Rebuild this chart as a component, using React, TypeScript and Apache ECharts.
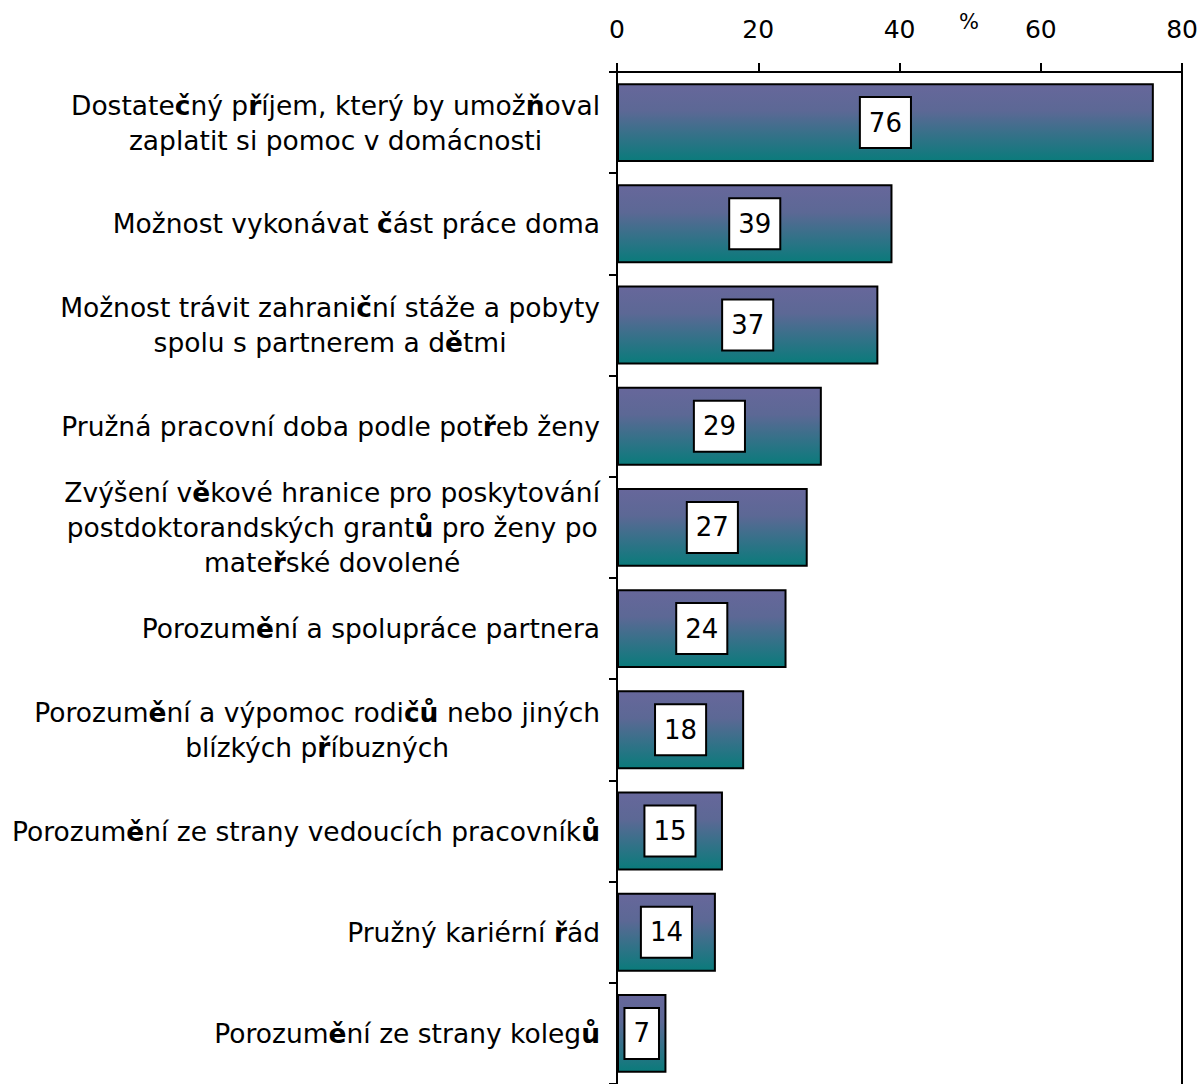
import React, { useEffect, useRef } from "react";
import * as echarts from "echarts";

const categories: string[] = [
  "Dostatečný příjem, který by umožňoval\nzaplatit si pomoc v domácnosti",
  "Možnost vykonávat část práce doma",
  "Možnost trávit zahraniční stáže a pobyty\nspolu s partnerem a dětmi",
  "Pružná pracovní doba podle potřeb ženy",
  "Zvýšení věkové hranice pro poskytování\npostdoktorandských grantů pro ženy po\nmateřské dovolené",
  "Porozumění a spolupráce partnera",
  "Porozumění a výpomoc rodičů nebo jiných\nblízkých příbuzných",
  "Porozumění ze strany vedoucích pracovníků",
  "Pružný kariérní řád",
  "Porozumění ze strany kolegů",
];

const values: number[] = [76, 39, 37, 29, 27, 24, 18, 15, 14, 7];

const xTicks = { min: 0, max: 80, interval: 20 };
const unitLabel = "%";

const BOLD_CHARS = "čřňěůďťČŘŇĚŮĎŤ";
const FONT = "DejaVu Sans";

function toRich(label: string): string {
  return label
    .split("\n")
    .map((line) => {
      let out = "";
      let run = "";
      let runBold: boolean | null = null;
      for (const ch of line) {
        const b = BOLD_CHARS.indexOf(ch) >= 0;
        if (runBold === null || b === runBold) {
          run += ch;
          runBold = b;
        } else {
          out += `{${runBold ? "b" : "n"}|${run}}`;
          run = ch;
          runBold = b;
        }
      }
      if (run) out += `{${runBold ? "b" : "n"}|${run}}`;
      return out;
    })
    .join("\n");
}

export default function App() {
  const ref = useRef<HTMLDivElement>(null);

  useEffect(() => {
    if (!ref.current) return;
    const chart = echarts.init(ref.current, undefined, { renderer: "svg" });
    const option: any = {
      animation: false,
      backgroundColor: "#ffffff",
      grid: { left: 617, right: 18, top: 72, bottom: -5, containLabel: false },
      xAxis: {
        type: "value",
        position: "top",
        min: xTicks.min,
        max: xTicks.max,
        interval: xTicks.interval,
        axisLine: { show: true, lineStyle: { color: "#000", width: 2 } },
        axisTick: { show: true, length: 9, lineStyle: { color: "#000", width: 2 } },
        splitLine: { show: false },
        axisLabel: {
          color: "#000",
          fontFamily: FONT,
          fontSize: 25,
          margin: 30,
        },
      },
      yAxis: [
        {
          type: "category",
          inverse: true,
          data: categories,
          axisLine: { show: true, lineStyle: { color: "#000", width: 2 } },
          axisTick: { show: true, length: 8, lineStyle: { color: "#000", width: 2 } },
          axisLabel: {
            margin: 17,
            formatter: (v: string) => toRich(v),
            rich: {
              n: {
                fontFamily: FONT,
                fontSize: 26.5,
                color: "#000",
                align: "center",
                lineHeight: 35,
              },
              b: {
                fontFamily: FONT,
                fontSize: 26.5,
                fontWeight: "bold",
                color: "#000",
                align: "center",
                lineHeight: 35,
              },
            },
          },
        },
        {
          type: "category",
          inverse: true,
          position: "right",
          data: categories,
          axisLine: { show: true, lineStyle: { color: "#000", width: 2 } },
          axisTick: { show: false },
          axisLabel: { show: false },
        },
      ],
      series: [
        {
          type: "bar",
          data: values,
          barCategoryGap: "22%",
          itemStyle: {
            color: new echarts.graphic.LinearGradient(0, 0, 0, 1, [
              { offset: 0, color: "#67679b" },
              { offset: 0.35, color: "#5c6895" },
              { offset: 1, color: "#0a7b7b" },
            ]),
            borderColor: "#000",
            borderWidth: 2,
          },
          label: {
            show: true,
            position: "inside",
            color: "#000",
            fontFamily: FONT,
            fontSize: 26,
            backgroundColor: "#fff",
            borderColor: "#000",
            borderWidth: 2,
            padding: [12, 8, 11, 8],
          },
        },
      ],
      graphic: [
        {
          type: "text",
          left: 959,
          top: 11,
          style: { text: unitLabel, fontFamily: FONT, fontSize: 21, fill: "#000" },
        },
      ],
    };
    chart.setOption(option);
    return () => chart.dispose();
  }, []);

  return (
    <div
      ref={ref}
      style={{ position: "fixed", left: 0, top: 0, width: 1201, height: 1084 }}
    />
  );
}
